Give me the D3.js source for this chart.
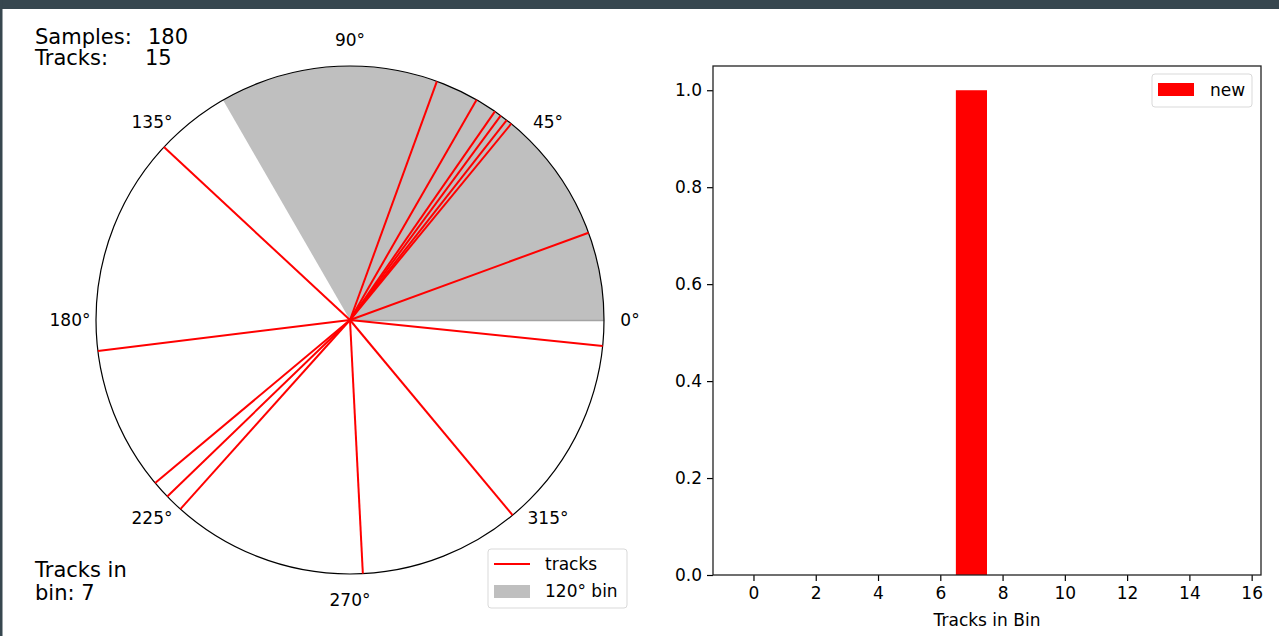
<!DOCTYPE html>
<html><head><meta charset="utf-8">
<script src="https://cdn.jsdelivr.net/npm/d3@7"></script>
<style>
html,body{margin:0;padding:0;background:#fff;}
text{font-family:"DejaVu Sans",sans-serif;fill:#000;}
</style></head>
<body><svg id="c" width="1279" height="636"></svg>
<script>
// ---- data ----
const trackAngles = [70.0, 60.1, 55.2, 53.6, 51.9, 50.6, 20.1, 137.1, 187.0, 219.9, 224.0, 228.1, 272.9, 309.8, 354.1];
const binRange = [0, 120];
const thetaTicks = [0, 45, 90, 135, 180, 225, 270, 315];
const sampleCount = 180;
const trackCount = 15;
const tracksInBin = 7;
const histBins = [0,1,2,3,4,5,6,7,8,9,10,11,12,13,14,15];
const histValues = [0,0,0,0,0,0,0,1,0,0,0,0,0,0,0,0];
const xTicks = [0,2,4,6,8,10,12,14,16];
const yTicks = [0,0.2,0.4,0.6,0.8,1.0];

const svg = d3.select("#c");
svg.append("rect").attr("width",1279).attr("height",636).attr("fill","#fff");
svg.append("rect").attr("width",1279).attr("height",9).attr("fill","#37474f");
svg.append("rect").attr("width",2.5).attr("height",636).attr("fill","#37474f");

// ---- polar ----
const cx = 350, cy = 320, R = 254;
const ang = d3.scaleLinear().domain([0,360]).range([Math.PI/2, Math.PI/2 - 2*Math.PI]);
const rad = d3.scaleLinear().domain([0,1]).range([0,R]);
const gP = svg.append("g").attr("transform",`translate(${cx},${cy})`);

gP.append("path")
  .attr("d", d3.arc().innerRadius(0).outerRadius(rad(1)).startAngle(ang(binRange[1])).endAngle(ang(binRange[0]))())
  .attr("fill","#bfbfbf");
const e0 = d3.pointRadial(ang(binRange[0]),rad(1));
gP.append("line")
  .attr("x1",0).attr("y1",0.5).attr("x2",e0[0]).attr("y2",e0[1]+0.5)
  .attr("stroke","#a3a3a3").attr("stroke-width",1.5);

gP.append("circle").attr("r",rad(1)).attr("fill","none").attr("stroke","#000").attr("stroke-width",1.2);

gP.selectAll("line.trk").data(trackAngles).join("line").attr("class","trk")
  .attr("x1",0).attr("y1",0)
  .attr("x2",d=>d3.pointRadial(ang(d),rad(1))[0])
  .attr("y2",d=>d3.pointRadial(ang(d),rad(1))[1])
  .attr("stroke","#ff0000").attr("stroke-width",2);

gP.selectAll("text.tt").data(thetaTicks).join("text").attr("class","tt")
  .attr("x",d=>d3.pointRadial(ang(d),rad(1)+26)[0])
  .attr("y",d=>d3.pointRadial(ang(d),rad(1)+26)[1])
  .attr("text-anchor","middle").attr("dy","0.36em")
  .style("font-size","17px")
  .text(d=>d+"°");

// annotations
const ann = svg.append("g").style("font-size","21px");
ann.append("text").attr("x",35).attr("y",44).text("Samples:");
ann.append("text").attr("x",148).attr("y",44).text(sampleCount);
ann.append("text").attr("x",35).attr("y",65).text("Tracks:");
ann.append("text").attr("x",145).attr("y",65).text(trackCount);
ann.append("text").attr("x",35).attr("y",577).text("Tracks in");
ann.append("text").attr("x",35).attr("y",600).text("bin: " + tracksInBin);

// polar legend
const lg = svg.append("g").attr("transform","translate(488,549)");
lg.append("rect").attr("width",139).attr("height",59).attr("rx",3)
  .attr("fill","#fff").attr("stroke","#d9d9d9").attr("stroke-width",1);
lg.append("line").attr("x1",6).attr("x2",42).attr("y1",15).attr("y2",15).attr("stroke","#ff0000").attr("stroke-width",2);
lg.append("text").attr("x",57).attr("y",21).style("font-size","17px").text("tracks");
lg.append("rect").attr("x",6).attr("y",36).attr("width",36).attr("height",13).attr("fill","#bfbfbf");
lg.append("text").attr("x",57).attr("y",48).style("font-size","17px").text(`${binRange[1]-binRange[0]}° bin`);

// ---- histogram ----
const L = 713, Rt = 1261, T = 66, B = 575;
const x = d3.scaleLinear().domain([-1.3, 16.3]).range([L, Rt]);
const y = d3.scaleLinear().domain([0, 1.05]).range([B, T]);

svg.append("g").selectAll("rect").data(histBins.map((b,i)=>({b, v:histValues[i]})).filter(d=>d.v>0))
  .join("rect")
  .attr("x",d=>x(d.b-0.5)).attr("width",d=>x(d.b+0.5)-x(d.b-0.5))
  .attr("y",d=>y(d.v)).attr("height",d=>y(0)-y(d.v))
  .attr("fill","#ff0000");

const xa = svg.append("g").attr("transform",`translate(0,${B})`)
  .call(d3.axisBottom(x).tickValues(xTicks).tickSize(6).tickPadding(6).tickFormat(d3.format("d")));
const ya = svg.append("g").attr("transform",`translate(${L},0)`)
  .call(d3.axisLeft(y).tickValues(yTicks).tickSize(6).tickPadding(5).tickFormat(d3.format(".1f")));
[xa,ya].forEach(a=>{
  a.select(".domain").remove();
  a.selectAll("line").attr("stroke","#000").attr("stroke-width",1.2);
  a.selectAll("text").style("font-size","17px").style("font-family","DejaVu Sans").attr("fill","#000");
});
svg.append("rect").attr("x",L).attr("y",T).attr("width",Rt-L).attr("height",B-T)
  .attr("fill","none").attr("stroke","#222").attr("stroke-width",1.3);

svg.append("text").attr("x",(L+Rt)/2).attr("y",626).attr("text-anchor","middle")
  .style("font-size","17px").text("Tracks in Bin");

// hist legend
const hl = svg.append("g").attr("transform","translate(1152,74)");
hl.append("rect").attr("width",100).attr("height",33).attr("rx",3)
  .attr("fill","#fff").attr("stroke","#d9d9d9").attr("stroke-width",1);
hl.append("rect").attr("x",6).attr("y",9).attr("width",36).attr("height",13).attr("fill","#ff0000");
hl.append("text").attr("x",58).attr("y",22).style("font-size","17px").text("new");
</script></body></html>
